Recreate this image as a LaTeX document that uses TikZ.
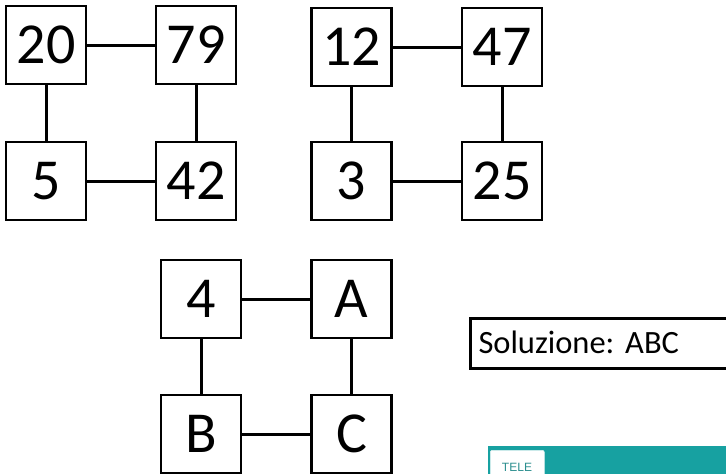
\documentclass[tikz,border=0pt]{standalone}
\usepackage{fontspec}
\setmainfont{Carlito}
\newfontfamily\arialfont{Liberation Sans}
\definecolor{tealband}{HTML}{17A1A1}
\definecolor{tealtext}{HTML}{2B8E8E}
\tikzset{
  numbox/.style={draw, line width=2.2pt, minimum width=80pt, minimum height=78pt, inner sep=0pt,
    font=\fontsize{58}{58}\selectfont, text height=36.8pt, text depth=0pt},
  link/.style={line width=3pt},
}
\begin{document}
\frenchspacing
\begin{tikzpicture}[x=1pt,y=-1pt]
\useasboundingbox (0,0) rectangle (726,474);
% group 1
\node[numbox] (a1) at (46,45) {20};
\node[numbox] (b1) at (196,45) {79};
\node[numbox] (c1) at (46,181) {5};
\node[numbox] (d1) at (196,181) {42};
\draw[link] (a1) -- (b1);
\draw[link] (a1) -- (c1);
\draw[link] (b1) -- (d1);
\draw[link] (c1) -- (d1);
% group 2
\node[numbox] (a2) at (351.5,47) {12};
\node[numbox] (b2) at (502,47) {47};
\node[numbox] (c2) at (351.5,181) {3};
\node[numbox] (d2) at (502,181) {25};
\draw[link] (a2) -- (b2);
\draw[link] (a2) -- (c2);
\draw[link] (b2) -- (d2);
\draw[link] (c2) -- (d2);
% group 3
\node[numbox] (a3) at (201,299) {4};
\node[numbox] (b3) at (351.5,299) {A};
\node[numbox] (c3) at (201,434) {B};
\node[numbox] (d3) at (351.5,434) {C};
\draw[link] (a3) -- (b3);
\draw[link] (a3) -- (c3);
\draw[link] (b3) -- (d3);
\draw[link] (c3) -- (d3);
% solution
\node[draw, line width=3pt, anchor=north west, minimum height=50pt, text width=250pt,
  inner xsep=8.5pt, inner ysep=0pt, align=left, font=\fontsize{32.5}{32.5}\selectfont,
  text height=21pt, text depth=0pt] (sol) at (468.5,316.5) {Soluzione: ABC};
% teal band
\fill[tealband] (488,446) rectangle (726,474);
\node[fill=white, draw=white!85!tealband, line width=0.6pt, rounded corners=2pt, anchor=north west,
  minimum width=54pt, minimum height=30pt, inner sep=0pt] (tab) at (490,450) {};
\node[anchor=base, text=tealtext, font=\arialfont\fontsize{12}{12}\selectfont, inner sep=0pt] (tele) at (517,471.5) {TELE};
\end{tikzpicture}
\end{document}
